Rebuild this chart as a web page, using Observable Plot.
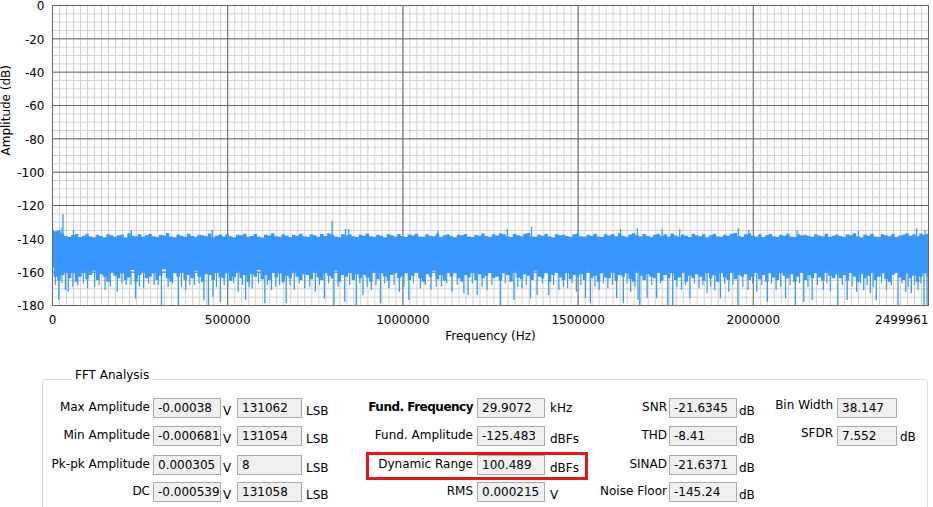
<!DOCTYPE html>
<html><head><meta charset="utf-8">
<script src="https://cdn.jsdelivr.net/npm/d3@7"></script>
<script src="https://cdn.jsdelivr.net/npm/@observablehq/plot@0.6"></script>
<style>
body{margin:0;background:#fff;font-family:"DejaVu Sans",sans-serif;font-size:12px;color:#000;}
#wrap{position:relative;width:933px;height:507px;overflow:hidden;background:#fff;}
#chart{position:absolute;left:0;top:0;}
.lbl{position:absolute;white-space:nowrap;text-align:right;line-height:20px;height:20px;}
.box{position:absolute;height:20px;box-sizing:border-box;border:1px solid #a9a9a9;background:#f0f0f0;padding-left:4px;line-height:18px;overflow:hidden;white-space:nowrap;}
.unit{position:absolute;white-space:nowrap;line-height:20px;}
#group{position:absolute;left:42px;top:379px;width:886px;height:140px;box-sizing:border-box;border:1px solid #dcdcdc;border-radius:3px;}
#gtitle{position:absolute;left:72px;top:368px;padding:0 3px;background:#fff;line-height:14px;}
#redbox{position:absolute;left:366px;top:452px;width:222px;height:28px;box-sizing:border-box;border:3px solid #e8141c;}
</style>
</head><body>
<div id="wrap">
<div id="chart"></div>
<div id="group"></div>
<div id="gtitle">FFT Analysis</div>
<div id="redbox"></div>
</div>
<script>
// ---------- chart data ----------
const xTicks = [0, 500000, 1000000, 1500000, 2000000, 2499961];
const yTicks = [0, -20, -40, -60, -80, -100, -120, -140, -160, -180];

// frequency samples of the noise band (kHz)
const bandKHz = [0,10,20,30,40,50,60,70,80,90,100,110,120,130,140,150,160,170,180,190,200,210,220,230,240,
250,260,270,280,290,300,310,320,330,340,350,360,370,380,390,400,410,420,430,440,450,460,470,480,490,
500,510,520,530,540,550,560,570,580,590,600,610,620,630,640,650,660,670,680,690,700,710,720,730,740,
750,760,770,780,790,800,810,820,830,840,850,860,870,880,890,900,910,920,930,940,950,960,970,980,990,
1000,1010,1020,1030,1040,1050,1060,1070,1080,1090,1100,1110,1120,1130,1140,1150,1160,1170,1180,1190,1200,1210,1220,1230,1240,
1250,1260,1270,1280,1290,1300,1310,1320,1330,1340,1350,1360,1370,1380,1390,1400,1410,1420,1430,1440,1450,1460,1470,1480,1490,
1500,1510,1520,1530,1540,1550,1560,1570,1580,1590,1600,1610,1620,1630,1640,1650,1660,1670,1680,1690,1700,1710,1720,1730,1740,
1750,1760,1770,1780,1790,1800,1810,1820,1830,1840,1850,1860,1870,1880,1890,1900,1910,1920,1930,1940,1950,1960,1970,1980,1990,
2000,2010,2020,2030,2040,2050,2060,2070,2080,2090,2100,2110,2120,2130,2140,2150,2160,2170,2180,2190,2200,2210,2220,2230,2240,
2250,2260,2270,2280,2290,2300,2310,2320,2330,2340,2350,2360,2370,2380,2390,2400,2410,2420,2430,2440,2450,2460,2470,2480,2490,
2499.961];

// upper edge of the dense noise band (dB)
const bandHi = [-134.6,-135.8,-135.1,-137.2,-138.6,-139.1,-138.0,-137.4,-139.2,-138.5,-137.3,-138.9,-139.4,-137.8,-138.6,-139.3,-137.5,-138.1,-139.0,-138.2,-137.9,-139.3,-136.9,-138.4,-138.8,
-137.6,-139.1,-138.2,-137.4,-138.7,-139.2,-137.9,-138.3,-136.8,-138.9,-139.4,-137.7,-138.5,-139.0,-137.3,-138.6,-139.1,-137.9,-138.2,-138.8,-137.1,-139.3,-138.4,-137.7,-138.9,
-137.5,-138.8,-139.3,-137.9,-138.1,-137.2,-139.0,-138.6,-137.4,-138.9,-139.5,-137.8,-138.3,-137.0,-138.7,-139.1,-137.6,-138.4,-139.2,-137.9,-138.5,-137.3,-138.8,-139.0,-137.6,
-138.2,-139.1,-137.4,-138.6,-137.0,-137.8,-138.9,-139.3,-137.6,-138.2,-137.5,-138.8,-139.2,-137.9,-138.4,-137.1,-138.7,-139.0,-137.8,-138.5,-139.3,-137.6,-138.1,-138.9,-137.4,
-138.6,-139.2,-137.7,-138.3,-137.2,-138.9,-139.1,-137.5,-138.4,-138.8,-137.3,-139.0,-138.2,-137.6,-138.7,-139.3,-137.9,-138.1,-137.4,-138.9,-139.2,-137.8,-138.5,-137.1,-138.6,
-139.0,-137.6,-138.3,-136.9,-137.5,-138.8,-139.2,-137.4,-138.1,-138.7,-137.3,-136.8,-138.9,-139.1,-137.7,-138.4,-137.2,-138.8,-139.3,-137.6,-138.2,-137.9,-138.6,-139.0,-137.5,
-137.2,-138.7,-139.1,-137.8,-138.4,-137.3,-138.9,-139.2,-137.6,-138.3,-137.5,-138.8,-137.0,-138.5,-139.0,-137.7,-136.9,-138.2,-138.9,-137.4,-138.6,-139.1,-137.8,-137.2,-138.4,
-137.5,-138.9,-137.1,-138.3,-139.0,-137.7,-138.5,-139.2,-137.4,-138.1,-138.8,-137.6,-139.3,-138.2,-137.3,-138.7,-139.0,-137.9,-138.4,-137.2,-136.8,-138.6,-139.1,-137.5,-137.0,
-138.3,-138.9,-137.6,-139.2,-138.1,-137.4,-138.7,-139.0,-137.8,-138.5,-137.3,-138.9,-139.2,-137.6,-138.2,-137.9,-138.6,-139.1,-137.5,-138.3,-138.8,-137.2,-139.0,-138.4,-137.7,
-138.6,-139.1,-137.5,-138.2,-137.0,-138.8,-139.3,-137.7,-138.4,-137.3,-138.9,-139.0,-137.6,-138.1,-138.7,-137.4,-139.2,-138.3,-137.8,-136.9,-138.5,-137.6,-138.8,-137.1,-137.9,
-137.2];

// lower edge of the dense noise band (dB)
const bandLo = [-157.5,-163,-165.5,-162,-160.5,-164,-161,-166,-163,-160,-164.5,-162,-159.5,-165,-161.5,-163,-166,-160,-162.5,-164,-161,-165,-163.5,-159,-166,
-162,-160,-164,-163,-161,-165,-162.5,-158.5,-164,-166,-161,-163,-160.5,-165,-162,-164,-159.5,-163,-166,-161.5,-162,-165,-160,-163.5,-164,
-161,-165.5,-163,-160,-164,-162,-166,-161.5,-163,-159,-164.5,-162,-165,-160.5,-163.5,-161,-166,-162.5,-164,-160,-163,-165,-161.5,-162,-164.5,
-160,-163.5,-165,-161,-162.5,-164,-159.5,-166,-162,-163,-160.5,-165,-161.5,-164,-162,-163.5,-166,-160,-164.5,-161,-163,-165.5,-162,-160.5,-164,
-163,-161,-165,-162.5,-160,-164,-166,-161.5,-163,-159.5,-164.5,-162,-165.5,-160.5,-163,-161,-164,-166,-162,-163.5,-160,-165,-161.5,-164,-162.5,
-160.5,-164,-163,-165.5,-161,-162,-166,-160,-163.5,-164.5,-161.5,-162.5,-165,-159.5,-163,-164,-161,-166,-162,-160.5,-163.5,-165,-161,-164.5,-162,
-163,-161.5,-165,-160,-164,-162.5,-166,-161,-163.5,-164,-160.5,-165.5,-162,-163,-161,-164.5,-166,-160,-162.5,-165,-161.5,-163,-164,-160.5,-165.5,
-162,-164,-161,-165,-163.5,-160,-166,-162.5,-164,-161.5,-163,-165.5,-160.5,-164,-162,-166,-161,-163.5,-165,-160,-164.5,-162,-163,-161.5,-165,
-163,-160.5,-164.5,-162,-166,-161,-163.5,-165,-160,-162.5,-164,-161.5,-166,-163,-160.5,-165,-162,-164,-161,-163.5,-165.5,-160,-162.5,-164,-161.5,
-164,-162,-165.5,-160.5,-163,-166,-161.5,-164,-162.5,-160,-165,-163,-161,-164.5,-166,-162,-160.5,-163.5,-165,-161,-164,-162.5,-166,-163,-161,
-163];

// isolated long downward spikes (kHz, dB)
const downKHz = [18,37,45,72,100,120,150,185,210,237,260,290,311,330,359,380,405,432,445,458,479,500,530,551,570,606,625,648,667,690,720,750,776,803,834,867,886,910,936,960,990,1017,1050,1080,1110,1140,1174,1186,1212,1240,1278,1317,1340,1364,1383,1416,1445,1470,1495,1521,1535,1560,1585,1610,1629,1650,1671,1676,1697,1724,1756,1770,1795,1819,1845,1868,1890,1906,1930,1956,1985,2010,2040,2065,2092,2120,2144,2168,2200,2220,2241,2268,2295,2315,2334,2351,2380,2413,2435,2451,2470,2487,2496];
const downDB  = [-177,-171,-172,-168,-170,-169,-171,-172,-168,-176,-170,-168,-180,-169,-180,-171,-168,-177,-180,-175,-178,-170,-172,-177,-170,-179,-171,-168,-179,-171,-170,-172,-176,-180,-178,-180,-174,-171,-179,-170,-172,-177,-170,-171,-169,-172,-173,-174,-174,-171,-180,-177,-170,-176,-174,-174,-171,-170,-172,-176,-179,-171,-170,-176,-179,-172,-177,-180,-176,-176,-180,-180,-171,-176,-170,-173,-171,-176,-172,-180,-171,-172,-178,-171,-176,-180,-178,-177,-171,-172,-180,-177,-172,-171,-173,-177,-171,-180,-172,-173,-171,-180,-180];

// shorter downward spikes just below the band (kHz, dB)
const medKHz = [8,27,58,88,133,165,198,224,248,274,302,343,368,392,418,468,490,517,542,561,588,613,637,657,678,704,734,762,788,815,848,877,898,923,948,975,1003,1030,1064,1095,1125,1155,1198,1226,1254,1292,1328,1352,1398,1430,1458,1483,1508,1548,1572,1598,1640,1662,1710,1735,1782,1806,1832,1856,1878,1918,1942,1970,1998,2024,2052,2078,2105,2132,2156,2183,2210,2254,2282,2306,2325,2342,2366,2394,2424,2442,2460,2478];
const medDB  = [-168,-167,-169,-167,-168,-169,-167,-168,-169,-167,-168,-167,-169,-168,-167,-169,-168,-167,-168,-169,-167,-168,-169,-167,-168,-167,-169,-168,-167,-169,-168,-167,-169,-168,-167,-168,-169,-167,-168,-169,-167,-168,-167,-169,-168,-167,-169,-168,-167,-168,-169,-167,-168,-169,-167,-168,-167,-169,-168,-167,-169,-168,-167,-168,-169,-167,-168,-169,-167,-168,-167,-169,-168,-167,-169,-168,-167,-168,-169,-167,-168,-169,-167,-168,-167,-169,-168,-167];

// isolated upward spikes (kHz, dB) incl. the fundamental at 29.9072 kHz
const upKHz = [27,29.9072,60,225,456,798,836,845,1100,1298,1367,1500,1621,1669,1740,1790,1957,1987,2125,2300,2466,2490];
const upDB  = [-133.6,-125.5,-135,-135,-135,-129.6,-134.4,-134.4,-135.5,-134.4,-133.2,-135.5,-134.4,-134,-134.4,-134.4,-134,-135,-135.2,-135.5,-134,-135];

// ---------- panel data ----------
const leftLabels = ["Max Amplitude","Min Amplitude","Pk-pk Amplitude","DC"];
const leftVolts  = ["-0.00038","-0.000681","0.000305","-0.000539"];
const leftLSB    = ["131062","131054","8","131058"];
const midLabels  = ["Fund. Frequency","Fund. Amplitude","Dynamic Range","RMS"];
const midValues  = ["29.9072","-125.483","100.489","0.000215"];
const midUnits   = ["kHz","dBFs","dBFs","V"];
const rightLabels = ["SNR","THD","SINAD","Noise Floor"];
const rightValues = ["-21.6345","-8.41","-21.6371","-145.24"];
const farLabels = ["Bin Width","SFDR"];
const farValues = ["38.147","7.552"];
const farUnits  = ["","dB"];

// ---------- build chart ----------
const band = bandKHz.map((f, i) => ({f: f * 1000, hi: bandHi[i], lo: bandLo[i]}));
const downs = downKHz.map((f, i) => ({f: f * 1000, v: downDB[i]}));
const meds = medKHz.map((f, i) => ({f: f * 1000, v: medDB[i]}));
const ups = upKHz.map((f, i) => ({f: f * 1000, v: upDB[i]}));
const minorX = d3.range(0, 2499961, 20000);
const minorY = d3.range(-180, 0.1, 5);
const blue = "#3698ff";
const fmt = d => String(d);

const chart = Plot.plot({
  width: 933, height: 350,
  marginLeft: 52, marginRight: 5, marginTop: 5, marginBottom: 45,
  style: {fontFamily: "DejaVu Sans", fontSize: "12px", color: "#000", overflow: "visible", background: "transparent"},
  x: {domain: [0, 2499961], axis: null},
  y: {domain: [-180, 0], axis: null},
  marks: [
    Plot.ruleX(minorX, {stroke: "#d2d2d2", strokeWidth: 1}),
    Plot.ruleY(minorY, {stroke: "#d2d2d2", strokeWidth: 1}),
    Plot.ruleX(xTicks, {stroke: "#666", strokeWidth: 1}),
    Plot.ruleY(yTicks, {stroke: "#666", strokeWidth: 1}),
    Plot.areaY(band, {x: "f", y1: "lo", y2: "hi", curve: "step", fill: blue, clip: true}),
    Plot.ruleX(meds, {x: "f", y1: -160, y2: "v", stroke: blue, strokeWidth: 1.2, clip: true}),
    Plot.ruleX(downs, {x: "f", y1: -160, y2: "v", stroke: blue, strokeWidth: 1.3, clip: true}),
    Plot.ruleX(ups, {x: "f", y1: -140, y2: "v", stroke: blue, strokeWidth: 1.3, clip: true}),
    Plot.frame({stroke: "#666"}),
    Plot.axisY(yTicks, {tickSize: 0, tickPadding: 8, label: null, fontSize: 12, dy: 1, tickFormat: fmt}),
    Plot.axisX(xTicks.slice(0, -1), {tickSize: 0, tickPadding: 10, label: null, fontSize: 12, tickFormat: fmt}),
    Plot.axisX(xTicks.slice(-1), {tickSize: 0, tickPadding: 10, label: null, fontSize: 12, textAnchor: "end", tickFormat: fmt}),
    Plot.text(["Frequency (Hz)"], {frameAnchor: "bottom", dy: 34, fontSize: 12}),
    Plot.text(["Amplitude (dB)"], {frameAnchor: "left", dx: -46, rotate: -90, fontSize: 12})
  ]
});
document.getElementById("chart").appendChild(chart);

// ---------- build panel ----------
const wrap = document.getElementById("wrap");
const rowTop = [398, 426, 454.5, 482];
function el(cls, text, css) {
  const d = document.createElement("div");
  d.className = cls; d.textContent = text;
  Object.assign(d.style, css);
  wrap.appendChild(d);
  return d;
}
function label(text, rightX, top, extra) {
  return el("lbl", text, Object.assign({right: (933 - rightX) + "px", top: top + "px"}, extra || {}));
}
function box(text, x0, x1, top) {
  return el("box", text, {left: x0 + "px", width: (x1 - x0) + "px", top: top + "px"});
}
function unit(text, x, top) {
  return el("unit", text, {left: x + "px", top: top + "px"});
}
rowTop.forEach((t, i) => {
  label(leftLabels[i], 150, t - 1);
  box(leftVolts[i], 153, 221, t);
  unit("V", 223, t + 3);
  box(leftLSB[i], 237, 302, t);
  unit("LSB", 306, t + 3);

  label(midLabels[i], 473, t - 1, i === 0 ? {fontWeight: "bold", letterSpacing: "-0.5px"} : {});
  box(midValues[i], 477, 545, t);
  unit(midUnits[i], 550, i === 0 ? t : t + 3);

  label(rightLabels[i], 667, t - 1);
  box(rightValues[i], 669, 737, t);
  unit("dB", 739, t + 3);
});
farLabels.forEach((lab, i) => {
  const t = rowTop[i];
  label(lab, 833, t - 3);
  box(farValues[i], 837, 897, t);
  if (farUnits[i]) unit(farUnits[i], 900, t + 1);
});
</script>
</body></html>
